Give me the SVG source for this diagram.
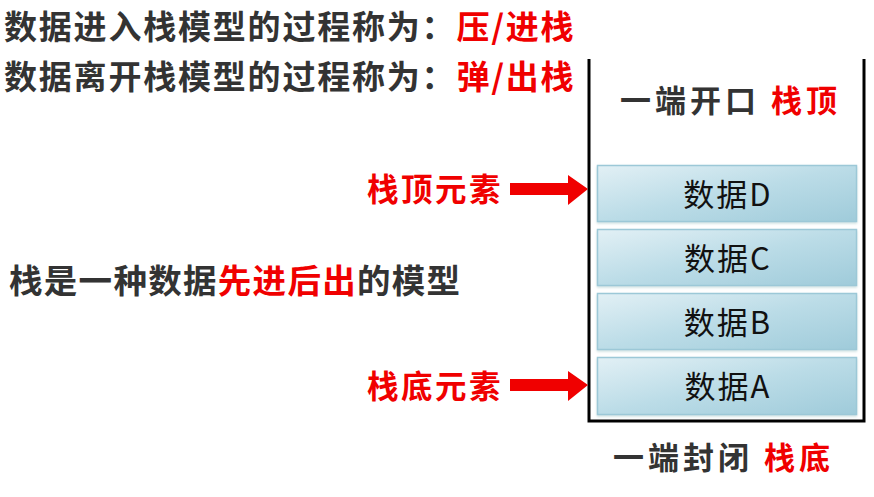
<svg xmlns="http://www.w3.org/2000/svg" width="874" height="497" viewBox="0 0 874 497">
<defs>
<linearGradient id="cell" x1="0" y1="0" x2="1" y2="1">
<stop offset="0" stop-color="#e2f0f5"/>
<stop offset="0.5" stop-color="#bbdce7"/>
<stop offset="1" stop-color="#9fcbda"/>
</linearGradient>
<filter id="sh" x="-5%" y="-10%" width="110%" height="130%">
<feDropShadow dx="0" dy="1.5" stdDeviation="1" flood-color="#7aa" flood-opacity="0.35"/>
</filter>
</defs>
<style>
.t{font-family:"Noto Sans CJK SC","Noto Sans",sans-serif;font-weight:bold;fill:#333;}
.r{fill:#f00000;}
.cell{fill:url(#cell);stroke:#9cc8d7;stroke-width:1.5;filter:url(#sh);}
.ct{font-family:"Noto Sans CJK SC","Liberation Sans",sans-serif;font-size:31px;letter-spacing:2px;fill:#111;text-anchor:middle;}
.wall{fill:none;stroke:#000;stroke-width:3;}
.arr{fill:#f00000;}
</style>
<rect width="874" height="497" fill="#fff"/>

<g id="title1"><text class="t" x="4" y="39" font-size="33" letter-spacing="1.8">数据进入栈模型的过程称为：<tspan class="r">压/进栈</tspan></text></g>
<g id="title2"><text class="t" x="4" y="89" font-size="33" letter-spacing="1.8">数据离开栈模型的过程称为：<tspan class="r">弹/出栈</tspan></text></g>
<g id="desc"><text class="t" x="9" y="293" font-size="33.5" letter-spacing="1.3">栈是一种数据<tspan class="r">先进后出</tspan>的模型</text></g>

<g id="stack">
<path class="wall" d="M589 59 V421 H864 V59"/>
<text class="t" x="620" y="112" font-size="31" letter-spacing="4">一端开口 <tspan class="r">栈顶</tspan></text>
<text class="t" x="613" y="469" font-size="31" letter-spacing="4">一端封闭 <tspan class="r">栈底</tspan></text>
</g>

<g id="cellD"><rect class="cell" x="597.5" y="165.5" width="259" height="56"/><text class="ct" x="728" y="206">数据D</text></g>
<g id="cellC"><rect class="cell" x="597.5" y="229.5" width="259" height="56"/><text class="ct" x="728" y="270">数据C</text></g>
<g id="cellB"><rect class="cell" x="597.5" y="293.5" width="259" height="56"/><text class="ct" x="728" y="334">数据B</text></g>
<g id="cellA"><rect class="cell" x="597.5" y="357.5" width="259" height="57"/><text class="ct" x="728" y="398">数据A</text></g>

<g id="topLabel"><text class="t r" x="367" y="201" font-size="31.5" letter-spacing="2.5">栈顶元素</text></g>
<g id="bottomLabel"><text class="t r" x="367" y="398" font-size="31.5" letter-spacing="2.5">栈底元素</text></g>

<g id="connectors">
<polygon class="arr" points="510,183 568,183 568,175 588,189 568,205 568,195 510,195"/>
<polygon class="arr" points="510,379 568,379 568,371 588,385 568,401 568,391 510,391"/>
</g>
</svg>
